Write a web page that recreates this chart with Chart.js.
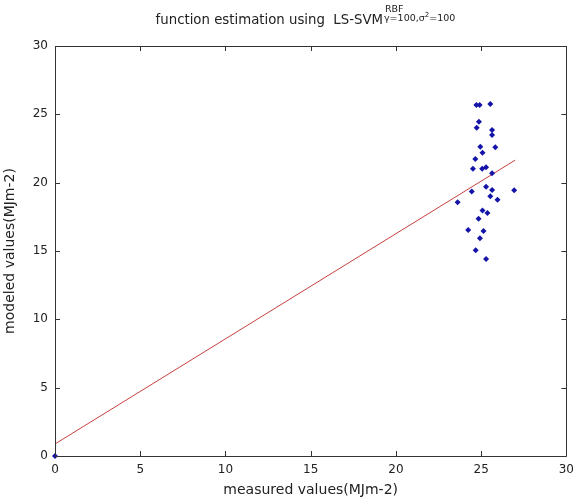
<!DOCTYPE html>
<html>
<head>
<meta charset="utf-8">
<title>LS-SVM function estimation</title>
<script src="https://cdn.jsdelivr.net/npm/chart.js@4/dist/chart.umd.min.js"></script>
<style>
  body { margin: 0; background: #fff; }
  #wrap { width: 581px; height: 500px; }
</style>
</head>
<body>
<div id="wrap"><canvas id="fitChart" width="581" height="500"></canvas></div>
<script>
// measured / modeled values
const measured = [
  24.72, 24.91, 25.54, 24.87, 24.74, 25.64, 25.64, 24.95, 25.83, 25.08,
  24.66, 24.52, 25.06, 25.29, 25.64, 25.29, 24.45, 25.64, 26.94, 25.54,
  25.96, 23.62, 25.08, 25.37, 24.85, 24.24, 25.14, 24.93, 24.68, 25.29, 0
];
const modeled = [
  25.68, 25.68, 25.75, 24.46, 24.02, 23.85, 23.48, 22.63, 22.60, 22.19,
  21.73, 21.02, 21.02, 21.12, 20.68, 19.70, 19.36, 19.46, 19.44, 19.00,
  18.75, 18.56, 17.97, 17.78, 17.36, 16.53, 16.46, 15.93, 15.05, 14.41, 0
];
// fitted line (end points)
const fitX = [0, 27];
const fitY = [0.88, 21.65];
const axisTicks = [0, 5, 10, 15, 20, 25, 30];

const pts = measured.map((x, i) => ({ x: x, y: modeled[i] }));
const fitPts = fitX.map((x, i) => ({ x: x, y: fitY[i] }));

const FONT = '"DejaVu Sans", Verdana, sans-serif';

// box + inward ticks on every side, plus the title with super/subscript
const matlabFrame = {
  id: 'matlabFrame',
  afterDraw(chart) {
    const ctx = chart.ctx;
    const a = chart.chartArea;
    const xs = chart.scales.x;
    const ys = chart.scales.y;
    ctx.save();
    ctx.strokeStyle = '#333';
    ctx.lineWidth = 1;
    ctx.beginPath();
    ctx.rect(Math.round(a.left) + 0.5, Math.round(a.top) + 0.5,
      Math.round(a.right - a.left), Math.round(a.bottom - a.top));
    axisTicks.forEach((v) => {
      const px = Math.round(xs.getPixelForValue(v)) + 0.5;
      ctx.moveTo(px, a.bottom); ctx.lineTo(px, a.bottom - 5);
      ctx.moveTo(px, a.top); ctx.lineTo(px, a.top + 5);
      const py = Math.round(ys.getPixelForValue(v)) + 0.5;
      ctx.moveTo(a.left, py); ctx.lineTo(a.left + 5, py);
      ctx.moveTo(a.right, py); ctx.lineTo(a.right - 5, py);
    });
    ctx.stroke();

    // title: main text, then RBF on top and gamma/sigma below
    ctx.fillStyle = '#222';
    ctx.textBaseline = 'alphabetic';
    ctx.textAlign = 'left';
    const main = 'function estimation using  LS-SVM';
    ctx.font = '13.3px ' + FONT;
    const mw = ctx.measureText(main).width;
    const mx = 383 - mw;
    ctx.fillText(main, mx, 24);
    const sx = 385;
    ctx.font = '9.5px ' + FONT;
    ctx.fillText('RBF', sx, 12);
    const p1 = '\u03b3=100,\u03c3';
    ctx.fillText(p1, sx - 1, 21);
    const w1 = ctx.measureText(p1).width;
    ctx.font = '7px ' + FONT;
    ctx.fillText('2', sx - 1 + w1, 17);
    const w2 = ctx.measureText('2').width;
    ctx.font = '9.5px ' + FONT;
    ctx.fillText('=100', sx - 1 + w1 + w2, 21);
    ctx.restore();
  }
};

const tickFont = { family: FONT, size: 12 };
const labelFont = { family: FONT, size: 14 };

new Chart(document.getElementById('fitChart').getContext('2d'), {
  type: 'scatter',
  data: {
    datasets: [
      {
        label: 'data',
        data: pts,
        pointStyle: 'rectRot',
        pointRadius: 3,
        backgroundColor: '#1414a8',
        borderColor: '#1414a8',
        borderWidth: 0,
        clip: false,
      },
      {
        label: 'fit',
        data: fitPts,
        showLine: true,
        pointRadius: 0,
        borderColor: '#c84040',
        borderWidth: 1,
        fill: false,
      },
    ],
  },
  options: {
    responsive: false,
    animation: false,
    layout: { padding: { top: 46, right: 5, left: 0, bottom: 0 } },
    plugins: {
      legend: { display: false },
      tooltip: { enabled: false },
      title: { display: false },
    },
    scales: {
      x: {
        type: 'linear',
        min: 0,
        max: 30,
        afterFit: (s) => { s.height = 44; },
        afterBuildTicks: (s) => { s.ticks = axisTicks.map((v) => ({ value: v })); },
        grid: { display: false, drawTicks: false },
        border: { display: false },
        ticks: { padding: 7, color: '#222', font: tickFont, maxRotation: 0 },
        title: {
          display: true,
          text: 'measured values(MJm-2)',
          color: '#222',
          font: labelFont,
          padding: { top: 0, bottom: 1 },
        },
      },
      y: {
        type: 'linear',
        min: 0,
        max: 30,
        afterFit: (s) => { s.width = 55; },
        afterBuildTicks: (s) => { s.ticks = axisTicks.map((v) => ({ value: v })); },
        grid: { display: false, drawTicks: false },
        border: { display: false },
        ticks: { padding: 7, color: '#222', font: tickFont },
        title: {
          display: true,
          text: 'modeled values(MJm-2)',
          color: '#222',
          font: labelFont,
          padding: { top: 2, bottom: 0 },
        },
      },
    },
  },
  plugins: [matlabFrame],
});
</script>
</body>
</html>
